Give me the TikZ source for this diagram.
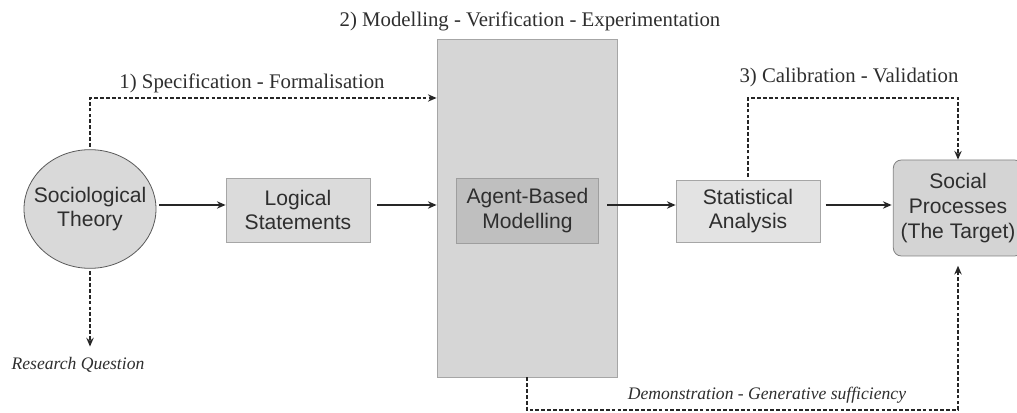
\documentclass[tikz,border=0pt]{standalone}
\usepackage{fontspec}
\setmainfont{Liberation Serif}
\newfontfamily\boxfont{Liberation Sans}
\usetikzlibrary{arrows.meta,shapes.geometric}
\definecolor{txt}{HTML}{2E2E2E}
\definecolor{lineclr}{HTML}{262626}
\begin{document}
\begin{tikzpicture}[x=0.75pt,y=-0.75pt,
  nodetext/.style={font=\boxfont\fontsize{15.8}{18.5}\selectfont, text=txt, align=center, inner sep=0pt},
  graybox/.style={nodetext, rectangle, draw=#1, line width=0.6pt},
  label/.style={font=\fontsize{15.6}{18}\selectfont, text=txt, inner sep=0pt},
  itlabel/.style={font=\itshape\fontsize{13.2}{16}\selectfont, text=txt, inner sep=0pt},
  arr/.style={-{Stealth[length=6.5pt,width=5.5pt]}, line width=1.3pt, draw=lineclr},
  dsh/.style={line width=1.4pt, draw=lineclr, dash pattern=on 2.8pt off 1.6pt},
  dtip/.style={-{Stealth[length=6.5pt,width=5.5pt]}}
]
\useasboundingbox (0,0) rectangle (1017,413);

% nodes
\node[ellipse, draw=gray!70!black, line width=0.6pt, fill=black!15, inner sep=0pt,
      minimum width=99pt, minimum height=89pt] (st) at (90,209) {};
\node[nodetext] (stt) at (st.center) {Sociological\\Theory};
\node[graybox=black!35, fill=black!14, minimum width=108pt, minimum height=48pt] (lg) at (298,210) {Logical\\Statements};
\node[rectangle, draw=black!35, line width=0.6pt, fill=black!16, minimum width=135pt, minimum height=253.5pt] (abo) at (527,208) {};
\node[graybox=black!38, fill=black!25, minimum width=107pt, minimum height=48.75pt] (abm) at (527.5,210.5) {Agent-Based\\Modelling};
\node[graybox=black!35, fill=black!11, minimum width=108pt, minimum height=46.5pt] (sa) at (748,211) {Statistical\\Analysis};
\node[graybox=black!50, fill=black!17, rounded corners=6pt, minimum width=97pt, minimum height=72pt] (sp) at (958,208) {Social\\Processes\\(The Target)};

% labels
\node[label] (l2) at (530,21) {2) Modelling - Verification - Experimentation};
\node[label] (l1) at (252,83) {1) Specification - Formalisation};
\node[label] (l3) at (849,78) {3) Calibration - Validation};
\node[itlabel] (rq) at (78,365) {Research Question};
\node[itlabel] (dm) at (767,395) {Demonstration - Generative sufficiency};

% helper coordinates
\coordinate (ym) at (0,205);
\coordinate (yt) at (0,98);
\coordinate (yb) at (0,410);

% solid arrows
\draw[arr, shorten <=2pt] (st.east |- ym) -- (lg.west |- ym);
\draw[arr, shorten <=5pt] (lg.east |- ym) -- (abo.west |- ym);
\draw[arr, shorten <=6pt] (abm.east |- ym) -- (sa.west |- ym);
\draw[arr, shorten <=4pt, shorten >=1pt] (sa.east |- ym) -- (sp.west |- ym);

% dashed connectors
\draw[dsh, dtip, shorten <=2pt] (st.north) -- (st.north |- yt) -- (abo.west |- yt);
\draw[dsh, dtip, shorten <=2pt] (sa.north) -- (sa.north |- yt) -- (sp.north |- yt) -- (sp.north);
\draw[dsh, dtip, shorten <=2pt, shorten >=8pt] (st.south) -- (st.south |- rq.north);
\draw[dsh, dtip, shorten >=7pt] (abo.south) -- (abo.south |- yb) -- (sp.south |- yb) -- (sp.south);
\end{tikzpicture}
\end{document}
